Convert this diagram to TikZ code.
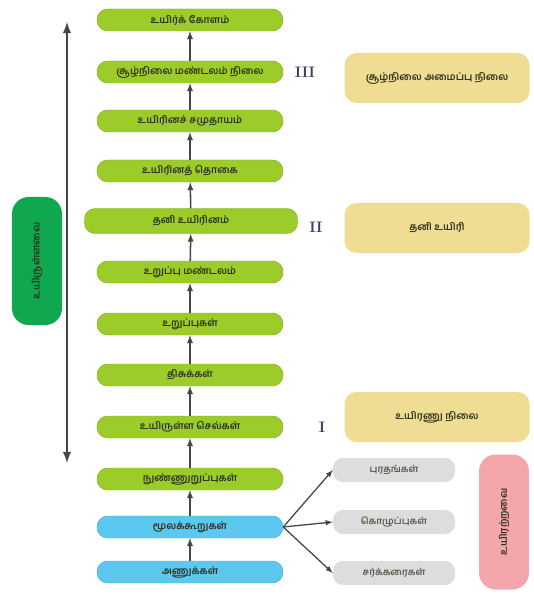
\documentclass[tikz,border=0pt]{standalone}
\usepackage{fontspec}
\newfontfamily\tamil[Script=Tamil]{Hind Madurai}
\usetikzlibrary{positioning}
\usetikzlibrary{arrows}
\definecolor{levelc}{RGB}{155,204,42}
\definecolor{basec}{RGB}{92,200,240}
\definecolor{stagec}{RGB}{238,221,146}
\definecolor{kindc}{RGB}{221,221,221}
\definecolor{livec}{RGB}{16,168,78}
\definecolor{deadc}{RGB}{245,165,172}
\definecolor{linkc}{RGB}{70,70,70}
\definecolor{numc}{RGB}{60,62,95}
\definecolor{textc}{RGB}{45,50,30}

\tikzset{
  levelbox/.style={fill=levelc, draw=levelc!85!black, rounded corners=0.32cm, minimum width=5.58cm, minimum height=0.66cm, inner sep=0pt, text=textc, font=\tamil\bfseries\fontsize{8.5}{9}\selectfont},
  basebox/.style={levelbox, fill=basec, draw=basec!85!black},
  stagebox/.style={fill=stagec, rounded corners=0.36cm, minimum width=5.55cm, minimum height=1.5cm, inner sep=0pt, text=textc, font=\tamil\bfseries\fontsize{8.5}{9}\selectfont},
  kindbox/.style={fill=kindc, rounded corners=0.3cm, minimum width=3.66cm, minimum height=0.72cm, inner sep=0pt, text=textc!80, font=\tamil\bfseries\fontsize{8}{9}\selectfont},
  sidebox/.style={rotate=90, rounded corners=0.5cm, minimum height=1.5cm, inner sep=0pt, font=\tamil\bfseries\fontsize{8.5}{9}\selectfont},
  uplink/.style={-latex, linkc, line width=1.3pt},
  outlink/.style={-latex, linkc, line width=1.1pt},
  numlabel/.style={text=numc, font=\bfseries\fontsize{13}{14}\selectfont}
}

\begin{document}
\begin{tikzpicture}[x=0.03cm, y=-0.03cm]
        \useasboundingbox (0,0) rectangle (533,595);

        % levels of the living world
        \node[levelbox] (bio) at (190,20) {உயிர்க் கோளம்};
        \node[levelbox] (eco) at (190,72) {சூழ்நிலை மண்டலம் நிலை};
        \node[levelbox] (comm) at (190,121) {உயிரினச் சமுதாயம்};
        \node[levelbox] (popu) at (190,171) {உயிரினத் தொகை};
        \node[levelbox, minimum width=6.39cm, minimum height=0.75cm] (orgm) at (191,221) {தனி உயிரினம்};
        \node[levelbox] (osys) at (190,272) {உறுப்பு மண்டலம்};
        \node[levelbox] (organ) at (190,324) {உறுப்புகள்};
        \node[levelbox] (tiss) at (190,375) {திசுக்கள்};
        \node[levelbox] (cell) at (190,427) {உயிருள்ள செல்கள்};
        \node[levelbox] (orgl) at (190,479) {நுண்ணுறுப்புகள்};
        \node[basebox] (mol) at (190,527) {மூலக்கூறுகள்};
        \node[basebox] (atom) at (190,572) {அணுக்கள்};

        \draw[uplink] (atom) -- (mol);
        \draw[uplink] (mol) -- (orgl);
        \draw[uplink] (orgl) -- (cell);
        \draw[uplink] (cell) -- (tiss);
        \draw[uplink] (tiss) -- (organ);
        \draw[uplink] (organ) -- (osys);
        \draw[uplink] (osys) -- (orgm);
        \draw[uplink] (orgm) -- (popu);
        \draw[uplink] (popu) -- (comm);
        \draw[uplink] (comm) -- (eco);
        \draw[uplink] (eco) -- (bio);

        % kinds of molecules
        \node[kindbox] (kind1) at (394,470) {புரதங்கள்};
        \node[kindbox] (kind2) at (394,522) {கொழுப்புகள்};
        \node[kindbox] (kind3) at (394,573) {சர்க்கரைகள்};
        \draw[outlink] (mol.east) -- (kind1.west);
        \draw[outlink] (mol.east) -- (kind2.west);
        \draw[outlink] (mol.east) -- (kind3.west);

        % stages
        \node[numlabel] (n3) at (305,72) {III};
        \node[numlabel] (n2) at (316,227) {II};
        \node[numlabel] (n1) at (322,427) {I};
        \node[stagebox] (st3) at (437,78) {சூழ்நிலை அமைப்பு நிலை};
        \node[stagebox] (st2) at (437,228) {தனி உயிரி};
        \node[stagebox] (st1) at (437,417) {உயிரணு நிலை};

        % living and non living
        \coordinate (top) at (67,22);
        \coordinate (bot) at (67,463);
        \draw[latex-latex, linkc, line width=2.2pt] (top) -- (bot);
        \node[sidebox, fill=livec, minimum width=3.84cm, text=textc] (live) at (37,261) {உயிருள்ளவை};
        \node[sidebox, fill=deadc, minimum width=4.05cm, text=textc] (dead) at (504,522) {உயிரற்றவை};

        \end{tikzpicture}
\end{document}
